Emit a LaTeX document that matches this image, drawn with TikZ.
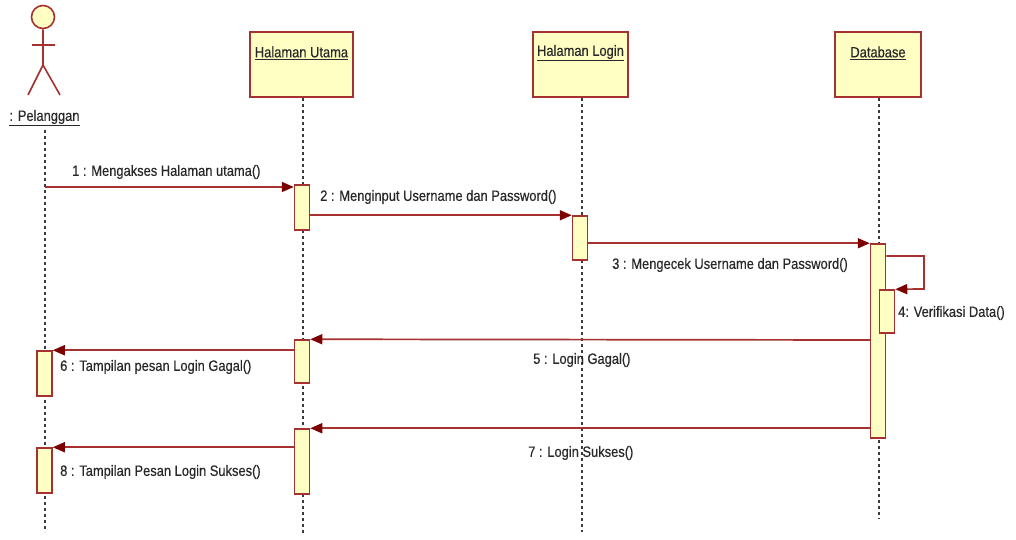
\documentclass[tikz,border=0pt]{standalone}
\usepackage{fontspec}
\setmainfont{Liberation Sans}[FakeStretch=0.86,FakeBold=0.4]
\usetikzlibrary{arrows.meta}
\definecolor{bord}{RGB}{165,50,48}
\definecolor{fillY}{RGB}{255,255,196}
\definecolor{arr}{RGB}{125,0,0}
\definecolor{txt}{RGB}{40,40,40}
\definecolor{life}{RGB}{60,60,60}
\begin{document}
\begin{tikzpicture}[x=1pt,y=-1pt,
  obj/.style={draw=bord, fill=fillY, line width=1.8pt, minimum width=#1, minimum height=65pt, inner sep=0pt},
  objtxt/.style={text=txt, font=\fontsize{15}{17}\selectfont, inner sep=0pt},
  act/.style={draw=bord, fill=fillY, line width=1.5pt, minimum width=15pt, minimum height=#1, inner sep=0pt},
  lifeline/.style={draw=life, line width=1.3pt, dash pattern=on 3pt off 3pt},
  msg/.style={draw=bord, line width=1.7pt, -{Triangle[length=12pt,width=10pt,color=arr]}},
  lbl/.style={text=txt, font=\fontsize{15}{17}\selectfont, inner sep=0pt, anchor=west}]
\useasboundingbox (0,0) rectangle (1016,540);
% actor
\node[draw=bord, fill=fillY, line width=1.6pt, circle, minimum size=23pt, inner sep=0pt] (head) at (43,17) {};
\coordinate (hip) at (43,65);
\coordinate (armL) at (32,45);
\coordinate (armR) at (55,45);
\coordinate (legL) at (28,95);
\coordinate (legR) at (60,95);
\draw[bord, line width=1.6pt] (head.south) -- (hip) (armL) -- (armR) (legL) -- (hip) -- (legR);
\node[objtxt] (pel) at (44.5,118) {\underline{: Pelanggan}};
% objects
\node[obj=103pt] (hu) at (301.5,64.5) {};
\node[objtxt] (hut) at (301.5,53) {\underline{Halaman Utama}};
\node[obj=95pt] (hl) at (580.5,64.5) {};
\node[objtxt] (hlt) at (580.5,53) {\underline{Halaman Login}};
\node[obj=86pt] (db) at (878,64.5) {};
\node[objtxt] (dbt) at (878,53) {\underline{Database}};
% lifelines
\coordinate (pelS) at (45,130);
\coordinate (pelE) at (45,532);
\coordinate (huE) at (303,535);
\coordinate (hlE) at (582,532);
\coordinate (dbE) at (879,518);
\draw[lifeline] (pelS) -- (pelE);
\draw[lifeline] (hu.south -| huE) -- (huE);
\draw[lifeline] (hl.south -| hlE) -- (hlE);
\draw[lifeline] (db.south -| dbE) -- (dbE);
% labels
\node[lbl] (l1) at (72,172) {1 : Mengakses Halaman utama()};
\node[lbl] (l2) at (320,197) {2 : Menginput Username dan Password()};
\node[lbl] (l3) at (612,265) {3 : Mengecek Username dan Password()};
\node[lbl] (l4) at (898,313) {4: Verifikasi Data()};
\node[lbl] (l5) at (533,360) {5 : Login Gagal()};
\node[lbl] (l6) at (60,367) {6 : Tampilan pesan Login Gagal()};
\node[lbl] (l7) at (528,453) {7 : Login Sukses()};
\node[lbl] (l8) at (60,472) {8 : Tampilan Pesan Login Sukses()};
% activations
\node[act=45pt] (a1) at (302,207.5) {};
\node[act=44pt] (a2) at (580,238) {};
\node[act=194pt] (a3) at (878,341) {};
\node[act=43pt] (a4) at (887,311.5) {};
\node[act=43pt] (a5) at (302,361.5) {};
\node[act=45pt] (a6) at (44.5,373.5) {};
\node[act=65pt] (a7) at (302,461.5) {};
\node[act=45pt] (a8) at (44.5,470.5) {};
% messages
\coordinate (m1s) at (45,187);
\coordinate (m4a) at (924,256);
\coordinate (m4b) at (924,289);
\coordinate (m5s) at (870,340);
\draw[msg] (m1s) -- (a1.west |- m1s);
\draw[msg] (a1.east |- a2.north) -- (a2.north west);
\draw[msg] (a2.east |- a3.north) -- (a3.north west);
\draw[msg] (a3.east |- m4a) -- (m4a) -- (m4b) -- (a4.north east);
\draw[msg] (a3.west |- m5s) -- (a5.north east);
\draw[msg] (a5.west |- a6.north) -- (a6.north east);
\draw[msg] (a3.west |- a7.north) -- (a7.north east);
\draw[msg] (a7.west |- a8.north) -- (a8.north east);
\end{tikzpicture}
\end{document}
